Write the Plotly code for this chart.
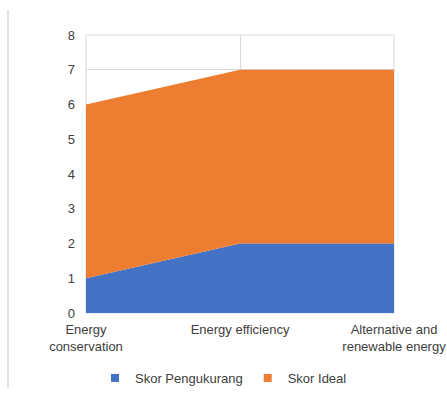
import plotly.graph_objects as go

categories = ["Energy<br>conservation", "Energy efficiency", "Alternative and<br>renewable energy"]
skor_pengukurang = [1, 2, 2]
skor_ideal = [5, 5, 5]
series_names = ["Skor Pengukurang", "Skor Ideal"]
series_colors = ["#4472C4", "#ED7D31"]

W, H = 447, 394
L, R, T, B = 86, 53, 35, 81

fig = go.Figure()
for name, values, color in zip(series_names, [skor_pengukurang, skor_ideal], series_colors):
    fig.add_trace(go.Scatter(
        x=categories, y=values, name=name, legendgroup=name,
        mode="none", stackgroup="one", fillcolor=color, showlegend=False,
    ))
# square legend keys
for name, color in zip(series_names, series_colors):
    fig.add_trace(go.Scatter(
        x=[None], y=[None], name=name, legendgroup=name, mode="markers",
        marker=dict(symbol="square", size=8, color=color), showlegend=True,
    ))

plot_w = W - L - R
plot_h = H - T - B
# outer chart border on the left
fig.add_shape(type="line", xref="paper", yref="paper",
              x0=(8 - L) / plot_w, x1=(8 - L) / plot_w,
              y0=-(388 - (H - B)) / plot_h, y1=1 + (T - 10) / plot_h,
              line=dict(color="#d9d9d9", width=1.5), layer="below")
# plot-area frame (top and right edges show above the fill)
fig.add_shape(type="rect", xref="paper", yref="paper",
              x0=0, x1=1, y0=0, y1=1,
              line=dict(color="#d9d9d9", width=1), layer="below")

fig.update_layout(
    width=W, height=H,
    margin=dict(l=L, r=R, t=T, b=B, autoexpand=False),
    paper_bgcolor="white", plot_bgcolor="white",
    font=dict(family="Liberation Sans, Arial, sans-serif", size=13, color="#404040"),
    showlegend=True,
    legend=dict(orientation="h", x=0.5, xanchor="center", xref="container",
                y=(H - 378) / H, yanchor="middle", yref="container",
                traceorder="normal", itemwidth=30,
                font=dict(size=13, color="#404040")),
    xaxis=dict(type="category", range=[0, 2], showgrid=True, gridcolor="#d9d9d9",
               gridwidth=1, zeroline=False, showline=False, ticks="",
               automargin=False, tickfont=dict(size=13), ticklabelstandoff=7),
    yaxis=dict(range=[0, 8], dtick=1, showgrid=True, gridcolor="#d9d9d9",
               gridwidth=1, zeroline=False, showline=False, ticks="",
               automargin=False, tickfont=dict(size=13), ticklabelstandoff=10),
)

fig.write_html("out.html")
